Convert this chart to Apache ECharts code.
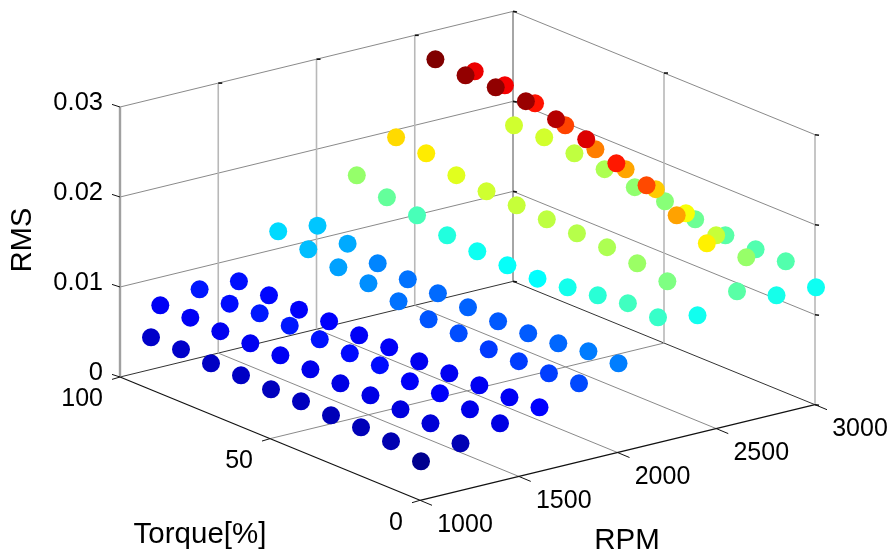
<!DOCTYPE html>
<html><head><meta charset="utf-8">
<style>html,body{margin:0;padding:0;background:#fff}#c{width:891px;height:552px}</style>
<script src="https://cdn.jsdelivr.net/npm/echarts@6/dist/echarts.min.js"></script>
</head><body><div id="c"></div>
<script>
// Torque levels [%] — every RPM row starts at 0
const torque = [0,10,20,30,40,50,60,70,80,90,100];
const rpmLevels = [3000,2800,2600,2400,2200,2000,1800,1600,1400,1200,1000]; // drawn far to near
const rms3000 = [0.01304,0.01456,0.01453,0.01471,0.01512,0.01575,0.01594,0.01657,0.01697,0.01738,0.01734];
const rms2800 = [0.01322,0.01607,0.01714,0.01822,0.01952,0.02037,0.02122,0.02252,0.02359,0.02422,0.02441];
const rms2600 = [0.01472,0.01869,0.02043,0.02239,0.02347,0.02476,0.02562,0.02625,0.02643,0.02639,0.02680];
const rms2400 = [0.01312,0.01553,0.01616,0.01657,0.01675,0.01694,0.01712,0.01731,0.01772,0.01879,0.01920];
const rms2200 = [0.01396,0.01415,0.01366,0.01318,0.01277,0.01289,0.01307,0.01348,0.01433,0.01496,0.01604];
const rms2000 = [0.00991,0.00987,0.00939,0.00913,0.00910,0.00928,0.00947,0.00965,0.01006,0.01087,0.01150];
const rms1800 = [0.00875,0.00849,0.00846,0.00842,0.00883,0.00901,0.00964,0.01027,0.01068,0.01131,0.01194];
const rms1600 = [0.00715,0.00689,0.00685,0.00681,0.00678,0.00696,0.00693,0.00711,0.00703,0.00726,0.00745];
const rms1400 = [0.00643,0.00662,0.00702,0.00699,0.00740,0.00736,0.00754,0.00769,0.00769,0.00739,0.00762];
const rms1200 = [0.00527,0.00612,0.00631,0.00649,0.00646,0.00664,0.00683,0.00679,0.00676,0.00690,0.00690];
const rms1000 = [0.00433,0.00519,0.00537,0.00533,0.00552,0.00548,0.00567,0.00563,0.00582,0.00578];
const rmsRows = [rms3000,rms2800,rms2600,rms2400,rms2200,rms2000,rms1800,rms1600,rms1400,rms1200,rms1000];

const rpmTicks = [1000,1500,2000,2500,3000];
const torqueTicks = [0,50,100];
const rmsTicks = [0,0.01,0.02,0.03];
const rmsTickText = ['0','0.01','0.02','0.03'];
const jet = ['#00008f','#0000ff','#0080ff','#00ffff','#80ff80','#ffff00','#ff8000','#ff0000','#800000'];

// orthographic view of the MATLAB-style 3D box onto the page
function project(r, t, z) {
  const dr = r - 1000;
  return [420 + 0.1975 * dr - 3.0 * t - 0.00001 * dr * t,
          500.3 - 0.0478 * dr - 1.233 * t - 9000 * z];
}

const series = [];
function seg(a, b, color, width) {
  series.push({type:'line', data:[a,b], showSymbol:false, silent:true, animation:false, z:1,
    lineStyle:{color:color, width:width}});
}
// RMS grid on the two back walls
rmsTicks.forEach((z,i) => {
  const c = i === 0 ? '#333333' : '#8a8a8a';
  seg(project(1000,100,z), project(3000,100,z), c, 1);
  seg(project(3000,100,z), project(3000,0,z), c, 1);
});
// floor grid
rpmTicks.slice(1,4).forEach(r => seg(project(r,0,0), project(r,100,0), '#8a8a8a', 1));
seg(project(1000,50,0), project(3000,50,0), '#8a8a8a', 1);
// wall verticals
const zTop = 0.03;
seg(project(1000,100,0), project(1000,100,zTop), '#a0a0a0', 2.4);
rpmTicks.slice(1,4).forEach(r => seg(project(r,100,0), project(r,100,zTop), '#b8b8b8', 1.6));
seg(project(3000,100,0), project(3000,100,zTop), '#909090', 1.6);
seg(project(3000,50,0), project(3000,50,zTop), '#b8b8b8', 1.6);
seg(project(3000,0,0), project(3000,0,zTop), '#b8b8b8', 1.6);
// front floor edges
seg(project(1000,100,0), project(1000,0,0), '#111111', 1.2);
seg(project(1000,0,0), project(3000,0,0), '#111111', 1.2);
// tick marks
function shift(p,dx,dy){return [p[0]+dx,p[1]+dy];}
rmsTicks.forEach(z => {
  const p = project(1000,100,z);
  seg(p, shift(p,-8,-2.6), '#111111', 1);
  [[3000,100],[3000,0]].forEach(q => { const w = project(q[0],q[1],z); seg(shift(w,0,0), shift(w,4,0.6), '#111111', 1.6); });
});
rpmTicks.forEach(r => {
  const p = project(r,0,0);
  seg(p, shift(p,12,5), '#111111', 1);
  if (r > 1000 && r < 3000) { const w = project(r,100,zTop); seg(w, shift(w,4,0), '#111111', 1.6); }
});
torqueTicks.forEach(t => {
  const p = project(1000,t,0);
  seg(p, shift(p,-8,2.4), '#111111', 1);
});
const tw = project(3000,50,zTop); seg(tw, shift(tw,4,0), '#111111', 1.6);

// measured points (marker centres sit one pixel right of the box frame)
const points = [];
rpmLevels.forEach((r,k) => rmsRows[k].forEach((z,j) => {
  const p = project(r, torque[j], z);
  points.push([p[0] + 1, p[1], z]);
}));
series.push({type:'scatter', data:points, symbol:'circle', symbolSize:18, z:5, silent:true, animation:false,
  encode:{x:0,y:1}, large:false, itemStyle:{opacity:1}});

// text
const font = '"Liberation Sans", Arial, sans-serif';
const texts = [];
function text(s, x, y, align, size, rot) {
  texts.push({type:'text', x:x, y:y, rotation:rot||0, z:10, silent:true,
    style:{text:s, fill:'#000', font:size+'px '+font, textAlign:align, textVerticalAlign:'middle'}});
}
rmsTicks.forEach((z,i) => { const p = project(1000,100,z); text(rmsTickText[i], p[0]-17, p[1]-4, 'right', 25.5); });
torqueTicks.forEach(t => { const p = project(1000,t,0); text(String(t), p[0]-17, p[1]+22.5, 'right', 25); });
rpmTicks.forEach(r => { const p = project(r,0,0); text(String(r), p[0]+45, p[1]+24.5, 'center', 25); });
text('RMS', 23, 240, 'center', 29, Math.PI/2);
text('Torque[%]', 200, 534.5, 'center', 29.5);
text('RPM', 627, 541, 'center', 29.5);

const chart = echarts.init(document.getElementById('c'), null, {renderer:'canvas'});
chart.setOption({
  animation:false,
  backgroundColor:'#fff',
  grid:{left:0,right:0,top:0,bottom:0},
  xAxis:{type:'value',min:0,max:891,show:false},
  yAxis:{type:'value',min:0,max:552,inverse:true,show:false},
  visualMap:{show:false,type:'continuous',dimension:2,seriesIndex:series.length-1,min:0.00433,max:0.0268,inRange:{color:jet}},
  series:series,
  graphic:texts
});
</script></body></html>
